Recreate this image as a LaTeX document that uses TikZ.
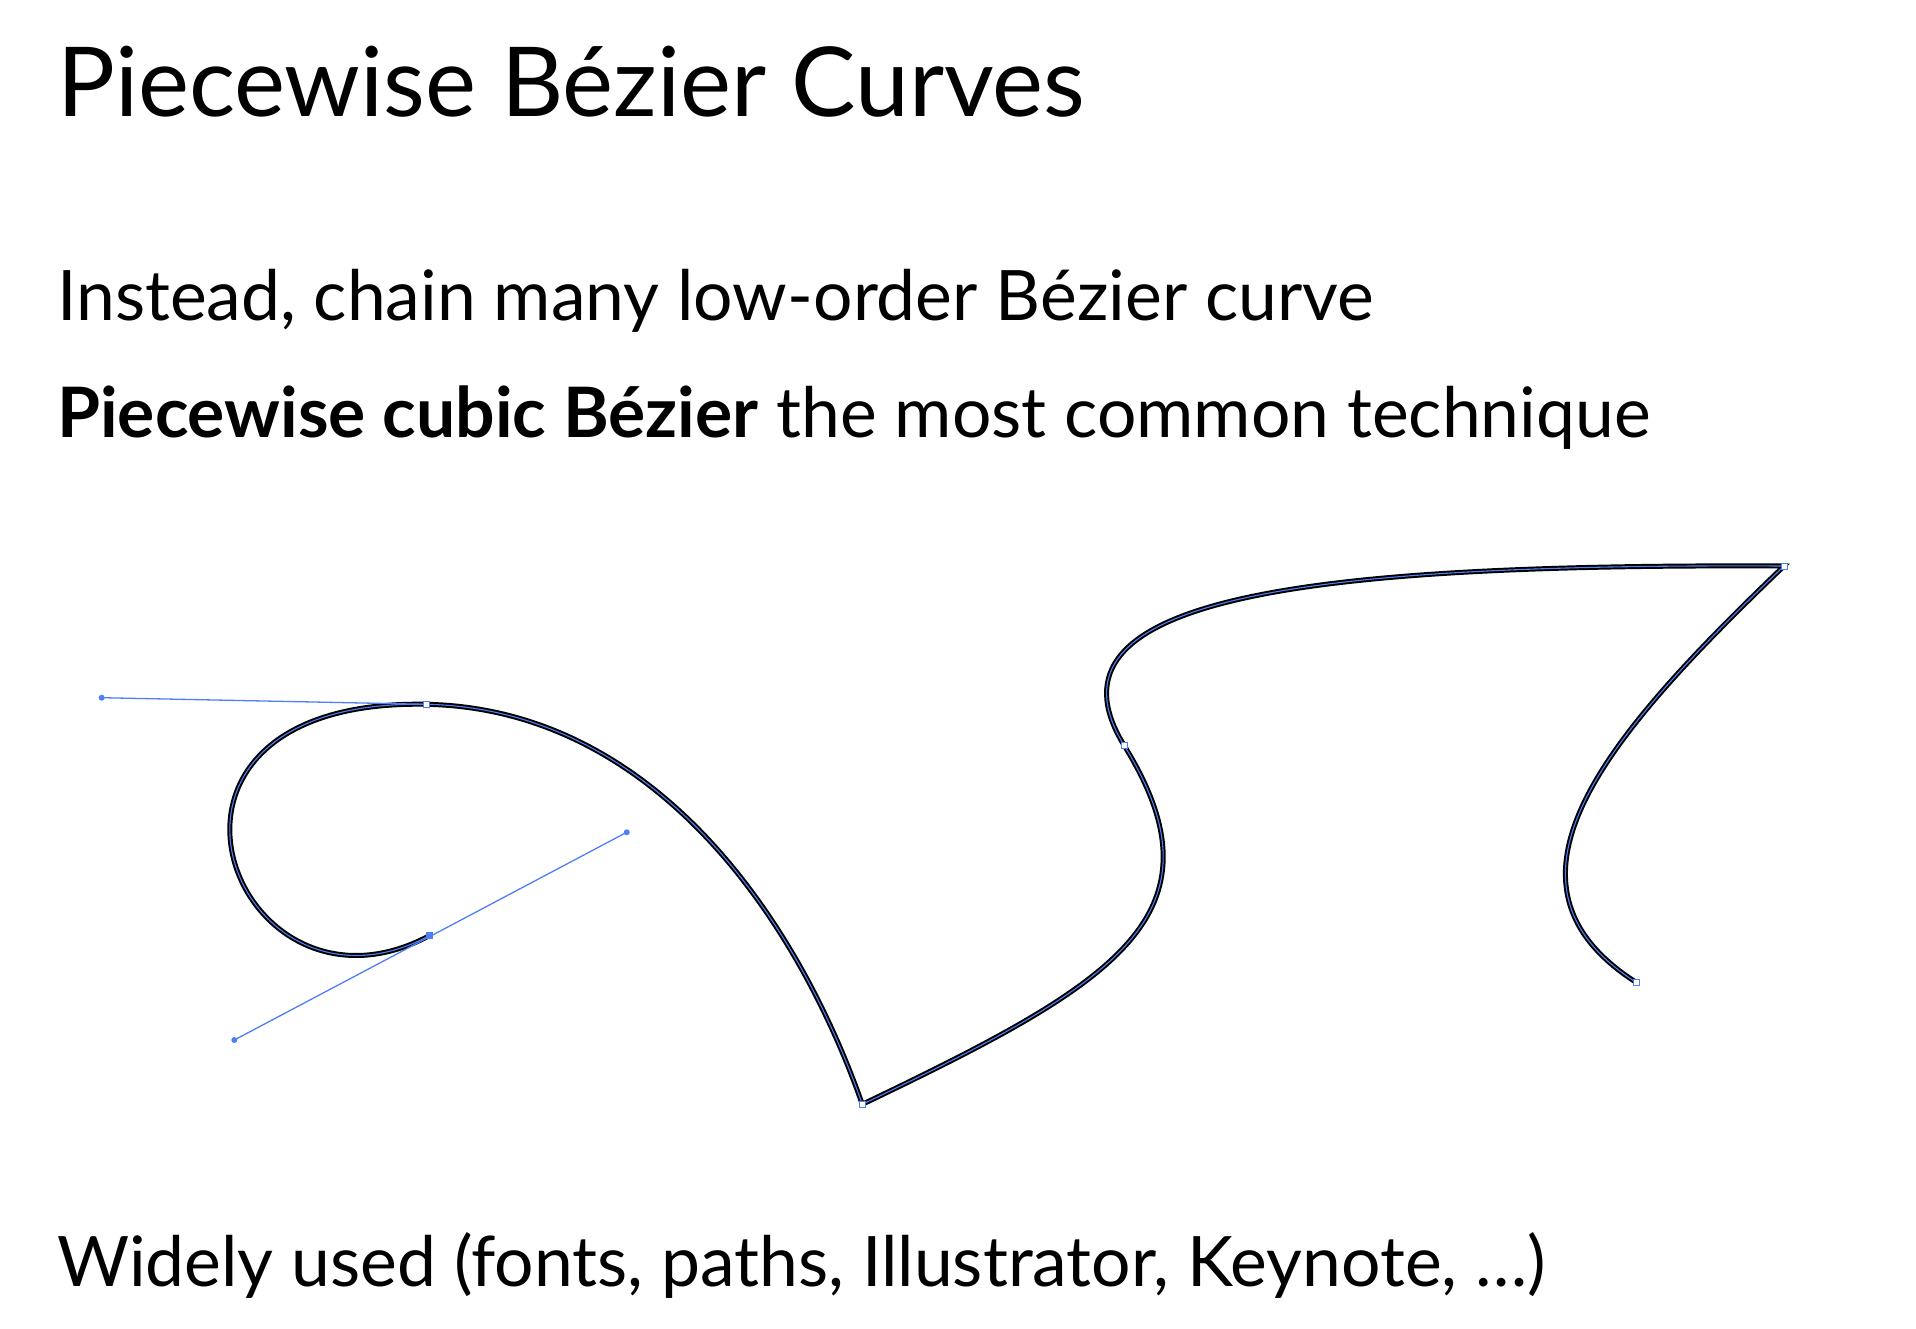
\documentclass[tikz,border=0pt]{standalone}
\usepackage{fontspec}
\setmainfont{Lato}
\usetikzlibrary{positioning}
\definecolor{selblue}{RGB}{79,127,245}

\begin{document}
\begin{tikzpicture}[x=1pt,y=-1pt,
    heading/.style={anchor=base west,inner sep=0pt,font=\fontsize{96.5}{100}\selectfont},
    bodytext/.style={anchor=base west,inner sep=0pt,font=\fontsize{69.6}{72}\selectfont},
    handle/.style={draw=selblue,line width=1.3pt},
    knob/.style={fill=selblue},
    anchorpt/.style={rectangle,draw=selblue,fill=white,line width=1pt,minimum size=6pt,inner sep=0pt},
    selpt/.style={rectangle,fill=selblue,minimum size=7pt,inner sep=0pt}]
    \useasboundingbox (0,0) rectangle (1916,1328);
    % texts
    \node[heading] (title) at (57,116) {Piecewise Bézier Curves};
    \node[bodytext] (chain) at (57,320) {Instead, chain many low-order Bézier curve};
    \node[bodytext] (cubic) at (57,437) {\textbf{Piecewise cubic Bézier} the most common technique};
    \node[bodytext] (used) at (57,1286) {Widely used (fonts, paths, Illustrator, Keynote, …)};
    % anchors and handles
    \coordinate (s) at (429.3,935.7);
    \coordinate (a) at (426.7,704.3);
    \coordinate (b) at (862.3,1104.3);
    \coordinate (c) at (1124.3,745.7);
    \coordinate (d) at (1784,566);
    \coordinate (e) at (1636.7,982.7);
    \coordinate (h0) at (626.7,832.3);
    \coordinate (h1) at (234.3,1040);
    \coordinate (h2) at (101.7,697.7);
    % the piecewise curve
    \foreach \pen/\wd in {black/5pt,selblue/1.1pt}{
        \draw[\pen,line width=\wd] (s) .. controls (h1) and (h2) .. (a)
            .. controls (646.7,708.8) and (792.6,906.1) .. (b)
            .. controls (1114.9,983.3) and (1229.3,915.9) .. (c)
            .. controls (1032.4,596.8) and (1304,563.6) .. (d)
            .. controls (1604,738.5) and (1480.6,883.5) .. (e);
    }
    \draw[handle] (h2) -- (a);
    \draw[handle] (h1) -- (h0);
    \foreach \p in {h0,h1,h2}{
        \fill[knob] (\p) circle (3pt);
    }
    \foreach \p in {a,b,c,d,e}{
        \node[anchorpt] (pt\p) at (\p) {};
    }
    \node[selpt] (pts) at (s) {};
\end{tikzpicture}
\end{document}
